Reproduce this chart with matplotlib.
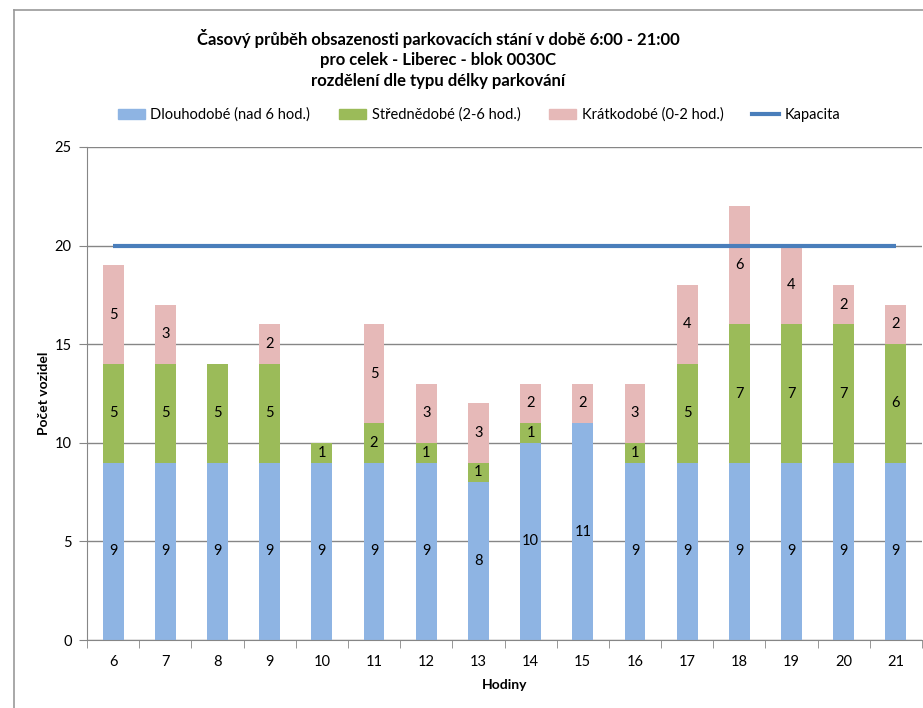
import numpy as np
import matplotlib.pyplot as plt
from matplotlib.patches import Patch
from matplotlib.lines import Line2D

plt.rcParams['font.family'] = ['Lato', 'DejaVu Sans']

hodiny = ['6', '7', '8', '9', '10', '11', '12', '13', '14', '15', '16', '17', '18', '19', '20', '21']
dlouhodobe = [9, 9, 9, 9, 9, 9, 9, 8, 10, 11, 9, 9, 9, 9, 9, 9]
strednedobe = [5, 5, 5, 5, 1, 2, 1, 1, 1, 0, 1, 5, 7, 7, 7, 6]
kratkodobe = [5, 3, 0, 2, 0, 5, 3, 3, 2, 2, 3, 4, 6, 4, 2, 2]
kapacita = [20] * 16

c_blue = '#8EB4E3'
c_green = '#9BBB59'
c_pink = '#E6B9B8'
c_line = '#4A7EBB'
c_grid = '#868686'

fig = plt.figure(figsize=(9.23, 7.08), dpi=100)
ax = fig.add_axes([87 / 923, 68 / 708, 835 / 923, 493 / 708])

x = np.arange(len(hodiny))
w = 0.4
d = np.array(dlouhodobe)
s = np.array(strednedobe)
k = np.array(kratkodobe)

ax.bar(x, d, w, color=c_blue, zorder=2)
ax.bar(x, s, w, bottom=d, color=c_green, zorder=2)
ax.bar(x, k, w, bottom=d + s, color=c_pink, zorder=2)
ax.plot(x, kapacita, color=c_line, lw=3, zorder=3, solid_capstyle='butt')

# popisky hodnot v segmentech
for i in range(len(x)):
    for val, base in [(d[i], 0), (s[i], d[i]), (k[i], d[i] + s[i])]:
        if val > 0:
            ax.text(x[i], base + val / 2, str(val), ha='center', va='center',
                    fontsize=10.5, zorder=4)

ax.set_xlim(-0.5, len(x) - 0.5)
ax.set_ylim(0, 25)
ax.set_yticks([0, 5, 10, 15, 20, 25])
ax.set_xticks(x)
ax.set_xticklabels(hodiny, fontsize=10.5)
ax.set_xticks(np.arange(-0.5, len(x), 1), minor=True)
ax.tick_params(axis='x', which='major', length=0, pad=11)
ax.tick_params(axis='x', which='minor', length=6, color=c_grid, direction='out')
ax.tick_params(axis='y', length=6, color=c_grid, labelsize=10.5, pad=5)

ax.yaxis.grid(True, color=c_grid, lw=1)
ax.set_axisbelow(True)
for sp in ['top', 'right']:
    ax.spines[sp].set_visible(False)
for sp in ['left', 'bottom']:
    ax.spines[sp].set_color(c_grid)

ax.set_xlabel('Hodiny', fontsize=10, fontweight='bold', labelpad=7)
ax.set_ylabel('Počet vozidel', fontsize=10, fontweight='bold', labelpad=3)

fig.text(438 / 923, 1 - 59 / 708,
         'Časový průběh obsazenosti parkovacích stání v době 6:00 - 21:00\n'
         'pro celek - Liberec - blok 0030C\n'
         'rozdělení dle typu délky parkování',
         ha='center', va='center', fontsize=12, fontweight='bold', linespacing=1.35)

handles = [Patch(color=c_blue), Patch(color=c_green), Patch(color=c_pink),
           Line2D([0], [0], color=c_line, lw=3)]
labels = ['Dlouhodobé (nad 6 hod.)', 'Střednědobé (2-6 hod.)',
          'Krátkodobé (0-2 hod.)', 'Kapacita']
fig.legend(handles, labels, loc='center', bbox_to_anchor=(479 / 923, 1 - 115 / 708),
           ncol=4, frameon=False, fontsize=10.5, handlelength=1.9, handleheight=0.75,
           handletextpad=0.35, columnspacing=1.95)

# okraj grafu (vlevo a nahoře)
fig.add_artist(Line2D([14 / 923, 14 / 923], [0, 1 - 10 / 708], color='#999999', lw=1.2,
                      transform=fig.transFigure))
fig.add_artist(Line2D([14 / 923, 1], [1 - 10 / 708, 1 - 10 / 708], color='#999999', lw=1.2,
                      transform=fig.transFigure))

fig.savefig('out.png', dpi=100)
